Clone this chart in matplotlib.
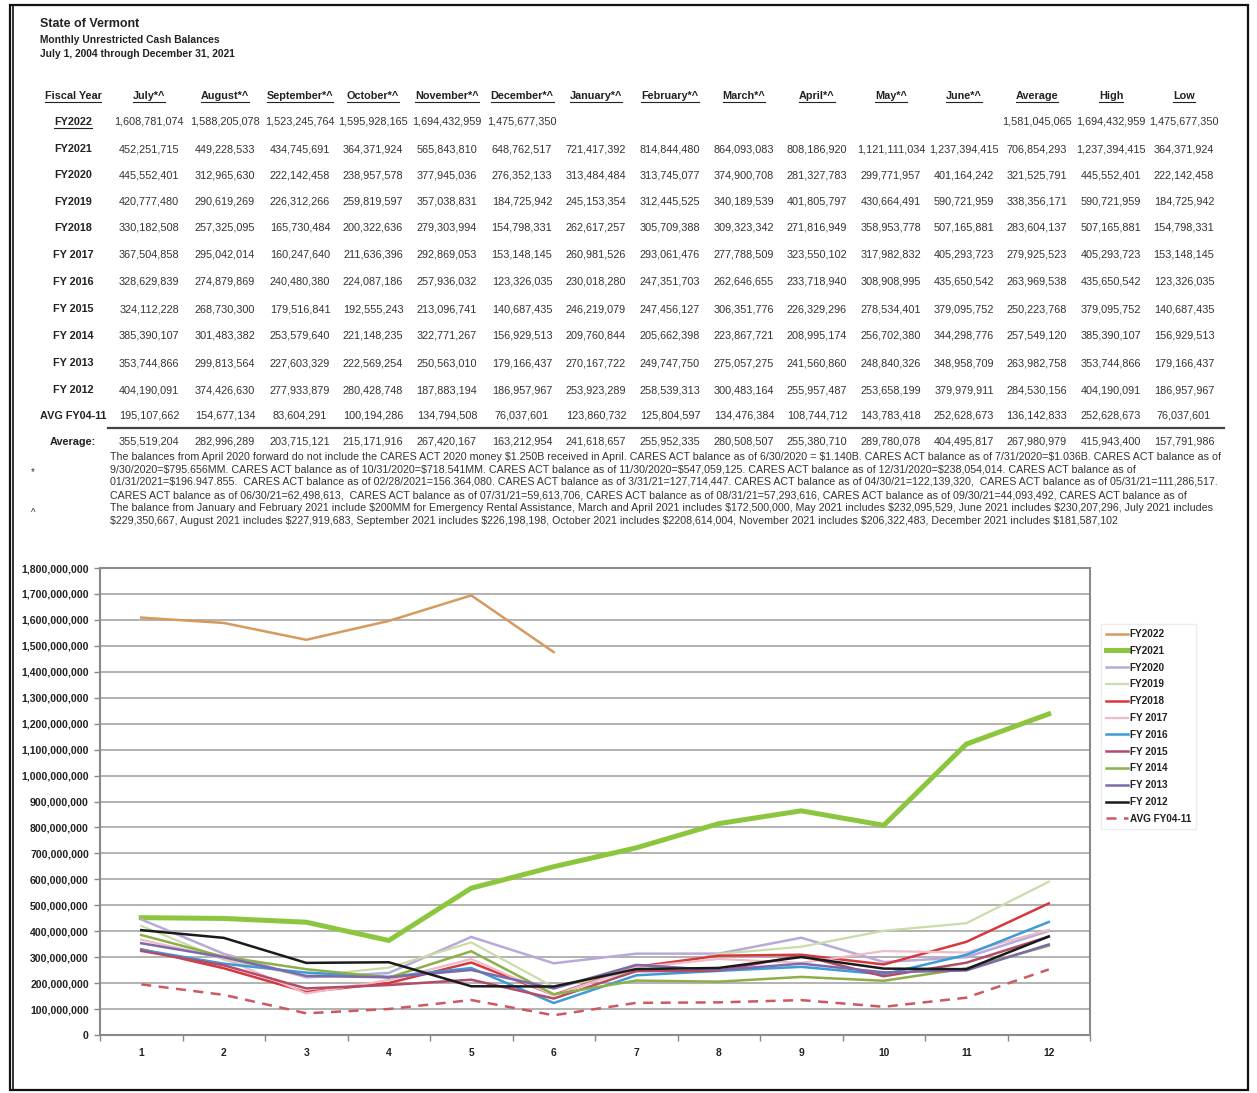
import matplotlib
matplotlib.use("Agg")
import matplotlib.pyplot as plt
from matplotlib.lines import Line2D
from matplotlib.patches import Rectangle

plt.rcParams['font.family'] = ['Liberation Sans', 'DejaVu Sans']
plt.rcParams['text.parse_math'] = False

W, H = 1257, 1093

# ---- data -------------------------------------------------------------
col_headers = ["Fiscal Year", "July*^", "August*^", "September*^", "October*^",
               "November*^", "December*^", "January*^", "February*^", "March*^",
               "April*^", "May*^", "June*^", "Average", "High", "Low"]

row_labels = ["FY2022", "FY2021", "FY2020", "FY2019", "FY2018", "FY 2017",
              "FY 2016", "FY 2015", "FY 2014", "FY 2013", "FY 2012", "AVG FY04-11"]

fy2022 = [1608781074, 1588205078, 1523245764, 1595928165, 1694432959, 1475677350]
fy2021 = [452251715, 449228533, 434745691, 364371924, 565843810, 648762517,
          721417392, 814844480, 864093083, 808186920, 1121111034, 1237394415]
fy2020 = [445552401, 312965630, 222142458, 238957578, 377945036, 276352133,
          313484484, 313745077, 374900708, 281327783, 299771957, 401164242]
fy2019 = [420777480, 290619269, 226312266, 259819597, 357038831, 184725942,
          245153354, 312445525, 340189539, 401805797, 430664491, 590721959]
fy2018 = [330182508, 257325095, 165730484, 200322636, 279303994, 154798331,
          262617257, 305709388, 309323342, 271816949, 358953778, 507165881]
fy2017 = [367504858, 295042014, 160247640, 211636396, 292869053, 153148145,
          260981526, 293061476, 277788509, 323550102, 317982832, 405293723]
fy2016 = [328629839, 274879869, 240480380, 224087186, 257936032, 123326035,
          230018280, 247351703, 262646655, 233718940, 308908995, 435650542]
fy2015 = [324112228, 268730300, 179516841, 192555243, 213096741, 140687435,
          246219079, 247456127, 306351776, 226329296, 278534401, 379095752]
fy2014 = [385390107, 301483382, 253579640, 221148235, 322771267, 156929513,
          209760844, 205662398, 223867721, 208995174, 256702380, 344298776]
fy2013 = [353744866, 299813564, 227603329, 222569254, 250563010, 179166437,
          270167722, 249747750, 275057275, 241560860, 248840326, 348958709]
fy2012 = [404190091, 374426630, 277933879, 280428748, 187883194, 186957967,
          253923289, 258539313, 300483164, 255957487, 253658199, 379979911]
avg_fy04_11 = [195107662, 154677134, 83604291, 100194286, 134794508, 76037601,
               123860732, 125804597, 134476384, 108744712, 143783418, 252628673]

row_avg = [1581045065, 706854293, 321525791, 338356171, 283604137, 279925523,
           263969538, 250223768, 257549120, 263982758, 284530156, 136142833]
row_high = [1694432959, 1237394415, 445552401, 590721959, 507165881, 405293723,
            435650542, 379095752, 385390107, 353744866, 404190091, 252628673]
row_low = [1475677350, 364371924, 222142458, 184725942, 154798331, 153148145,
           123326035, 140687435, 156929513, 179166437, 186957967, 76037601]

average_row = [355519204, 282996289, 203715121, 215171916, 267420167, 163212954,
               241618657, 255952335, 280508507, 255380710, 289780078, 404495817,
               267980979, 415943400, 157791986]

notes = [
    "The balances from April 2020 forward do not include the CARES ACT 2020 money $1.250B received in April. CARES ACT balance as of 6/30/2020 = $1.140B. CARES ACT balance as of 7/31/2020=$1.036B. CARES ACT balance as of",
    "9/30/2020=$795.656MM. CARES ACT balance as of 10/31/2020=$718.541MM. CARES ACT balance as of 11/30/2020=$547,059,125. CARES ACT balance as of 12/31/2020=$238,054,014. CARES ACT balance as of",
    "01/31/2021=$196.947.855.  CARES ACT balance as of 02/28/2021=156.364,080. CARES ACT balance as of 3/31/21=127,714,447. CARES ACT balance as of 04/30/21=122,139,320,  CARES ACT balance as of 05/31/21=111,286,517.",
    "CARES ACT balance as of 06/30/21=62,498,613,  CARES ACT balance as of 07/31/21=59,613,706, CARES ACT balance as of 08/31/21=57,293,616, CARES ACT balance as of 09/30/21=44,093,492, CARES ACT balance as of",
    "The balance from January and February 2021 include $200MM for Emergency Rental Assistance, March and April 2021 includes $172,500,000, May 2021 includes $232,095,529, June 2021 includes $230,207,296, July 2021 includes",
    "$229,350,667, August 2021 includes $227,919,683, September 2021 includes $226,198,198, October 2021 includes $2208,614,004, November 2021 includes $206,322,483, December 2021 includes $181,587,102",
]

y_ticks = list(range(0, 1800000001, 100000000))

series = [("FY2022", fy2022), ("FY2021", fy2021), ("FY2020", fy2020),
          ("FY2019", fy2019), ("FY2018", fy2018), ("FY 2017", fy2017),
          ("FY 2016", fy2016), ("FY 2015", fy2015), ("FY 2014", fy2014),
          ("FY 2013", fy2013), ("FY 2012", fy2012), ("AVG FY04-11", avg_fy04_11)]

styles = {
    "FY2022": dict(color="#D69A5E", lw=1.8),
    "FY2021": dict(color="#8CC63E", lw=3.6),
    "FY2020": dict(color="#B9A9DA", lw=1.8),
    "FY2019": dict(color="#C9DCA9", lw=1.6),
    "FY2018": dict(color="#D8373D", lw=1.8),
    "FY 2017": dict(color="#EDBCC9", lw=1.6),
    "FY 2016": dict(color="#3C9BD8", lw=1.8),
    "FY 2015": dict(color="#B24C67", lw=1.8),
    "FY 2014": dict(color="#8DAF48", lw=1.8),
    "FY 2013": dict(color="#7C6AAA", lw=1.8),
    "FY 2012": dict(color="#1a1a1a", lw=1.8),
    "AVG FY04-11": dict(color="#CC5862", lw=1.8, ls=(0, (4, 3))),
}


def fx(x):
    return x / W


def fy(y):
    return 1 - y / H


fig = plt.figure(figsize=(W / 100, H / 100), dpi=100)
fig.patch.set_facecolor("white")

# outer frame
fig.add_artist(Rectangle((fx(10), fy(1090)), fx(1248) - fx(10), fy(5) - fy(1090),
                         transform=fig.transFigure, fill=False, lw=1.6, ec="#111"))
fig.add_artist(Line2D([fx(12.5), fx(12.5)], [fy(5), fy(1090)], transform=fig.transFigure,
                      lw=1.2, color="#111"))

# titles
txt = "#222"
fig.text(fx(40), fy(24), "State of Vermont", fontsize=9, weight="bold", color=txt, va="center")
fig.text(fx(40), fy(40), "Monthly Unrestricted Cash Balances", fontsize=7.4, weight="bold",
         color=txt, va="center")
fig.text(fx(40), fy(54), "July 1, 2004 through December 31, 2021", fontsize=7.4, weight="bold",
         color=txt, va="center")

# table
col_x = [73, 149, 225, 300, 373, 447, 522, 596, 670, 744, 817, 891, 964, 1037, 1111, 1184]
row_y = [122, 149, 175, 202, 228, 255, 282, 309, 336, 363, 390, 416]
header_y = 96
fsz = 7.8
lsz = 7.8

underline = []
for cx, h in zip(col_x, col_headers):
    t = fig.text(fx(cx), fy(header_y), h, fontsize=lsz, weight="bold", color=txt,
                 ha="center", va="center")
    underline.append(t)

for i, lab in enumerate(row_labels):
    t = fig.text(fx(col_x[0]), fy(row_y[i]), lab, fontsize=lsz, weight="bold", color=txt,
                 ha="center", va="center")
    if i == 0:
        underline.append(t)
    vals = series[i][1]
    for j, v in enumerate(vals):
        fig.text(fx(col_x[j + 1]), fy(row_y[i]), f"{v:,}", fontsize=fsz, color="#333",
                 ha="center", va="center")
    for k, v in enumerate([row_avg[i], row_high[i], row_low[i]]):
        fig.text(fx(col_x[13 + k]), fy(row_y[i]), f"{v:,}", fontsize=fsz, color="#333",
                 ha="center", va="center")

fig.add_artist(Line2D([fx(108), fx(1224)], [fy(428), fy(428)], transform=fig.transFigure,
                      lw=1.6, color="#444"))

fig.text(fx(col_x[0]), fy(442), "Average:", fontsize=lsz, weight="bold", color=txt,
         ha="center", va="center")
for j, v in enumerate(average_row):
    fig.text(fx(col_x[j + 1]), fy(442), f"{v:,}", fontsize=fsz, color="#333",
             ha="center", va="center")

note_y = [457, 469, 482, 495, 508, 521]
for y, line in zip(note_y, notes):
    fig.text(fx(110), fy(y), line, fontsize=7.65, color="#333", va="center")
fig.text(fx(33), fy(472), "*", fontsize=7, color="#333", ha="center", va="center")
fig.text(fx(33), fy(513), "^", fontsize=7, color="#333", ha="center", va="center")

# chart
ax = fig.add_axes([fx(100), fy(1035), fx(1090) - fx(100), fy(568) - fy(1035)])
for label, vals in series:
    ax.plot(range(1, len(vals) + 1), vals, label=label, solid_joinstyle="miter",
            **styles[label])

ax.set_xlim(0.5, 12.5)
ax.set_ylim(0, 1800000000)
ax.set_yticks(y_ticks)
ax.set_yticklabels([f"{v:,}" for v in y_ticks], fontsize=7.6, weight="bold", color=txt)
ax.set_xticks([k + 0.5 for k in range(0, 13)])
ax.set_xticklabels([])
ax.set_xticks(range(1, 13), minor=True)
ax.set_xticklabels([str(k) for k in range(1, 13)], minor=True, fontsize=7.4,
                   weight="bold", color=txt)
ax.tick_params(axis="x", which="minor", length=0, pad=9)
ax.tick_params(axis="x", which="major", length=4, color="#888", width=1)
ax.tick_params(axis="y", length=4, color="#888", width=1, pad=4)
ax.grid(axis="y", color="#a6a6a6", lw=1.2)
ax.set_axisbelow(True)
for s in ax.spines.values():
    s.set_color("#8a8a8a")
    s.set_linewidth(1.5)

leg = ax.legend(loc="upper left", bbox_to_anchor=(fx(1096), fy(619)),
                bbox_transform=fig.transFigure, frameon=True, fontsize=7.2,
                handlelength=2.2, handletextpad=0.15, labelspacing=0.68,
                borderpad=0.5, fancybox=False, edgecolor="#e8e8e8")
for t in leg.get_texts():
    t.set_weight("bold")
    t.set_color(txt)

# underline headers
fig.canvas.draw()
r = fig.canvas.get_renderer()
for t in underline:
    bb = t.get_window_extent(r)
    fig.add_artist(Line2D([bb.x0 / W, bb.x1 / W], [(bb.y0 - 0.5) / H, (bb.y0 - 0.5) / H],
                          transform=fig.transFigure, lw=0.8, color=txt))

fig.savefig("out.png", dpi=100, facecolor="white")
